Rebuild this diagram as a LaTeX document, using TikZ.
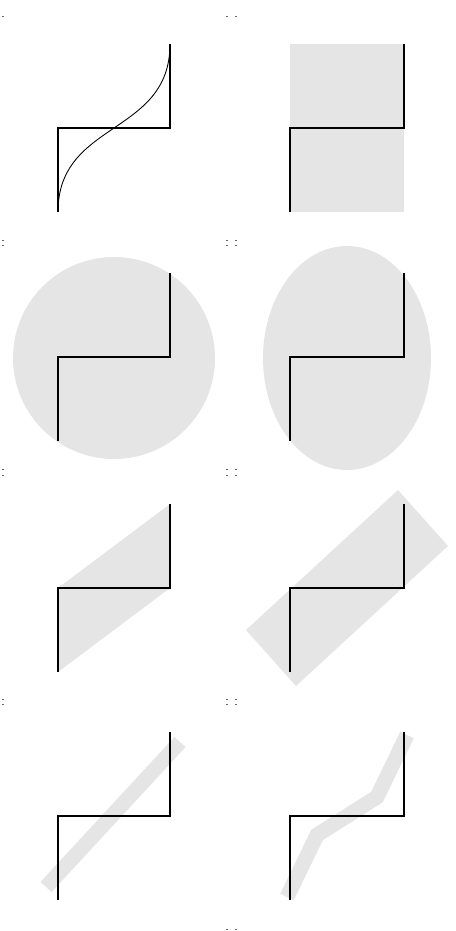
\documentclass[tikz,border=0pt]{standalone}
\usetikzlibrary{positioning}

\begin{document}
\begin{tikzpicture}[x=0.02cm,y=-0.02cm]
\tikzstyle{zstep}=[draw=black,line width=0.6pt]
\tikzstyle{shade}=[fill=black!10,draw=none]
\tikzstyle{band}=[draw=black!10,line width=0.3cm]
\tikzstyle{speck}=[fill=black!60]
\useasboundingbox (0,0) rectangle (456,931);
% grey regions
\fill[shade] (290,44) rectangle (404,212);
\fill[shade] (114,358) circle[radius=101];
\fill[shade] (347,358) ellipse[x radius=84,y radius=112];
\fill[shade] (58,588) -- (170,504) -- (170,588) -- (58,672) -- cycle;
\fill[shade] (246,630) -- (398,490) -- (448,546) -- (296,686) -- cycle;
\draw[band] (46,887) -- (180,742);
\draw[band] (287,897) -- (317,835) -- (377,797) -- (407,735);
% the step in every panel
\foreach \l/\r in {58/170,290/404} \foreach \c in {128,357,588,816}
  \draw[zstep] (\l,\c+84) -- (\l,\c) -- (\r,\c) -- (\r,\c-84);
\draw[zstep,line width=0.5pt] (58,212) .. controls (58,120) and (170,136) .. (170,44);
% small marks at the panel corners
\foreach \x/\y in {2/16,226/16,235/16,2/240,2/245,226/240,235/240,226/245,235/245,2/469,2/475,226/469,235/469,226/475,235/475,2/699,2/704,226/699,235/699,226/704,235/704,226/929,235/929}
  \fill[speck] (\x,\y) rectangle ++(2,1);
\end{tikzpicture}
\end{document}
